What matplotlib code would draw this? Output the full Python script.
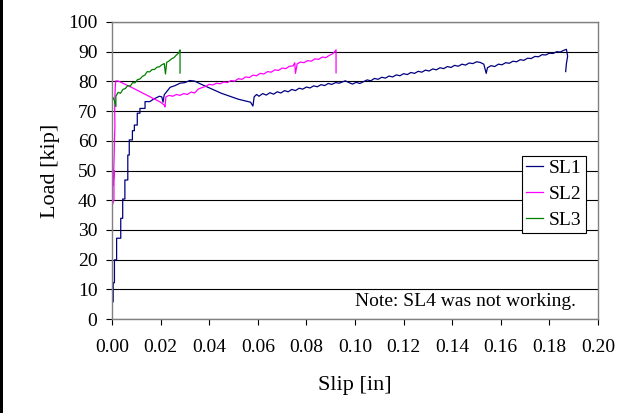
import matplotlib
matplotlib.use('Agg')
import matplotlib.pyplot as plt
from matplotlib.patches import Rectangle

plt.rcParams['font.family'] = ['Liberation Serif', 'DejaVu Serif']

# slip [in], load [kip]
sl1_slip = [0.0005, 0.0005, 0.0010, 0.0010, 0.0019, 0.0019, 0.0036, 0.0036, 0.0044, 0.0044,
            0.0053, 0.0053, 0.0065, 0.0065, 0.0071, 0.0071, 0.0084, 0.0084, 0.0092, 0.0092,
            0.0104, 0.0104, 0.0115, 0.0115, 0.0136, 0.0136, 0.0156, 0.017, 0.0195, 0.0205,
            0.021, 0.0215, 0.0239, 0.026, 0.028, 0.030, 0.032, 0.034,
            0.036, 0.045, 0.052, 0.057, 0.058,
            0.0585, 0.0595, 0.0605, 0.0620, 0.0635, 0.0650, 0.0665, 0.0680, 0.0695, 0.0710,
            0.0725, 0.0740, 0.0755, 0.0770, 0.0785, 0.0800, 0.0815, 0.0830, 0.0845, 0.0860,
            0.0875, 0.0890, 0.0905, 0.0920, 0.0935, 0.0960, 0.0975, 0.0990, 0.1005, 0.1020,
            0.1035, 0.1050, 0.1065, 0.1080, 0.1095, 0.1110, 0.1125, 0.1140, 0.1155, 0.1170,
            0.1185, 0.1200, 0.1215, 0.1230, 0.1245, 0.1260, 0.1275, 0.1290, 0.1305, 0.1320,
            0.1335, 0.1350, 0.1365, 0.1380, 0.1395, 0.1410, 0.1425, 0.1440, 0.1455, 0.1470,
            0.1485, 0.1500, 0.1515, 0.1530, 0.1540, 0.1545, 0.1560, 0.1575, 0.1590, 0.1605,
            0.1620, 0.1635, 0.1650, 0.1665, 0.1680, 0.1695, 0.1710, 0.1725, 0.1740, 0.1755,
            0.1770, 0.1785, 0.1800, 0.1815, 0.1830, 0.1845, 0.1860, 0.1870, 0.1875, 0.1870,
            0.1867]
sl1_load = [5.8, 12.2, 12.2, 19.9, 19.9, 27.2, 27.2, 33.9, 33.9, 40.4,
            40.4, 46.8, 46.8, 55.2, 55.2, 60.3, 60.3, 63.4, 63.4, 65.3,
            65.3, 69.3, 69.3, 70.9, 70.9, 73.2, 73.2, 74.0, 75.0, 74.8,
            73.0, 75.5, 78.0, 78.6, 79.4, 79.6, 80.3, 80.1,
            79.3, 76.0, 74.0, 73.0, 71.7,
            74.8, 75.6, 75.0, 75.9, 75.4, 76.2, 75.7, 76.5, 76.1, 76.9,
            76.5, 77.3, 76.9, 77.7, 77.4, 78.1, 77.8, 78.5, 78.2, 78.9,
            78.6, 79.3, 79.0, 79.6, 79.4, 80.2, 79.6, 79.1, 79.7, 79.3,
            79.9, 80.5, 80.2, 81.0, 80.7, 81.4, 81.1, 81.8, 81.5, 82.2,
            81.9, 82.6, 82.3, 83.0, 82.7, 83.4, 83.1, 83.8, 83.5, 84.2,
            83.9, 84.6, 84.3, 85.0, 84.7, 85.4, 85.1, 85.8, 85.5, 86.2,
            86.0, 86.6, 86.4, 85.8, 82.7, 84.6, 85.3, 85.0, 85.8, 85.6,
            86.3, 86.1, 86.8, 86.6, 87.3, 87.1, 87.8, 87.7, 88.4, 88.3,
            89.0, 88.9, 89.5, 89.4, 90.0, 89.9, 90.5, 90.8, 88.5, 86.0,
            83.3]

sl2_slip = [0.0, 0.0, 0.0008, 0.0008, 0.0005, 0.0009, 0.0010, 0.0012, 0.0011, 0.0012,
            0.0014, 0.0016, 0.0026, 0.008, 0.014, 0.020, 0.0215, 0.0218,
            0.0222, 0.0235, 0.0250, 0.0265, 0.0280, 0.0295, 0.0310, 0.0325, 0.0340, 0.0355,
            0.0370, 0.0385, 0.0400, 0.0415, 0.0430, 0.0445, 0.0460, 0.0475, 0.0490, 0.0505,
            0.0520, 0.0535, 0.0550, 0.0565, 0.0580, 0.0595, 0.0610, 0.0625, 0.0640, 0.0655,
            0.0670, 0.0685, 0.0700, 0.0715, 0.0730, 0.0745, 0.0752, 0.0755, 0.0762, 0.0775,
            0.0790, 0.0805, 0.0820, 0.0835, 0.0850, 0.0865, 0.0880, 0.0895, 0.0910, 0.0922,
            0.0922]
sl2_load = [0.0, 38.0, 40.0, 50.0, 45.0, 55.0, 60.0, 65.0, 70.0, 75.0,
            79.0, 80.2, 80.1, 78.0, 75.5, 73.0, 72.0, 71.4,
            74.8, 75.3, 75.0, 75.6, 75.3, 75.9, 75.6, 76.4, 76.1, 77.4,
            77.9, 78.3, 79.0, 78.8, 79.4, 79.2, 79.8, 79.6, 80.3, 80.1,
            80.9, 80.7, 81.5, 81.3, 82.1, 81.9, 82.7, 82.5, 83.3, 83.1,
            83.9, 83.7, 84.5, 84.3, 85.1, 85.2, 86.3, 82.7, 85.9, 86.5,
            86.3, 87.0, 86.8, 87.6, 87.4, 88.2, 88.0, 88.8, 89.4, 90.6,
            82.9]

sl3_slip = [0.0, 0.0, 0.0005, 0.0010, 0.0016, 0.0016, 0.0025, 0.0035, 0.0045, 0.0055,
            0.0065, 0.0075, 0.0085, 0.0095, 0.0105, 0.0115, 0.0125, 0.0135, 0.0145, 0.0155,
            0.0165, 0.0175, 0.0185, 0.0195, 0.0205, 0.0215, 0.0220, 0.0225, 0.0235, 0.0245,
            0.0255, 0.0265, 0.0275, 0.0280, 0.0280]
sl3_load = [0.0, 74.5, 74.5, 73.5, 71.5, 75.0, 76.3, 76.0, 77.3, 77.6,
            78.6, 78.4, 79.6, 79.5, 80.6, 80.8, 81.7, 82.1, 83.3, 83.2,
            84.0, 84.0, 84.8, 84.9, 85.6, 86.0, 82.5, 86.4, 86.9, 87.6,
            88.0, 88.9, 89.6, 90.6, 82.8]

xticks = [0.00, 0.02, 0.04, 0.06, 0.08, 0.10, 0.12, 0.14, 0.16, 0.18, 0.20]
yticks = [0, 10, 20, 30, 40, 50, 60, 70, 80, 90, 100]

fig = plt.figure(figsize=(6.37, 4.13), dpi=100)
ax = fig.add_axes([112 / 637, 1 - 319 / 413, 486 / 637, 297 / 413])

ax.plot(sl1_slip, sl1_load, color='#000080', lw=0.9, label='SL1')
ax.plot(sl2_slip, sl2_load, color='#FF00FF', lw=0.9, label='SL2')
ax.plot(sl3_slip, sl3_load, color='#008000', lw=0.9, label='SL3')

ax.set_xlim(0, 0.2)
ax.set_ylim(0, 100)
ax.set_xticks(xticks)
ax.set_xticklabels(['%.2f' % t for t in xticks])
ax.set_yticks(yticks)
ax.yaxis.grid(True, color='black', lw=0.8)
ax.set_axisbelow(True)
ax.tick_params(labelsize=14, direction='out', length=4.5, width=0.8, colors='black')
ax.tick_params(axis='x', pad=10)
ax.tick_params(axis='y', pad=6)
for s in ax.spines.values():
    s.set_color('#808080')
    s.set_linewidth(1.0)

ax.set_xlabel('Slip [in]', fontsize=16, labelpad=14)
ax.set_ylabel('Load [kip]', fontsize=16, labelpad=6)

ax.text(0.191, 5.8, 'Note: SL4 was not working.', ha='right', va='center', fontsize=14)

leg = ax.legend(loc='upper right', bbox_to_anchor=(0.975, 0.55), fontsize=14,
                frameon=True, fancybox=False, edgecolor='black', framealpha=1,
                handlelength=0.9, handletextpad=0.3, borderpad=0.2, labelspacing=0.43,
                borderaxespad=0)
leg.get_frame().set_linewidth(0.8)

fig.add_artist(Rectangle((0, 0), 3 / 637, 1, transform=fig.transFigure,
                         color='black', lw=0))

fig.savefig('out.png', dpi=100)
